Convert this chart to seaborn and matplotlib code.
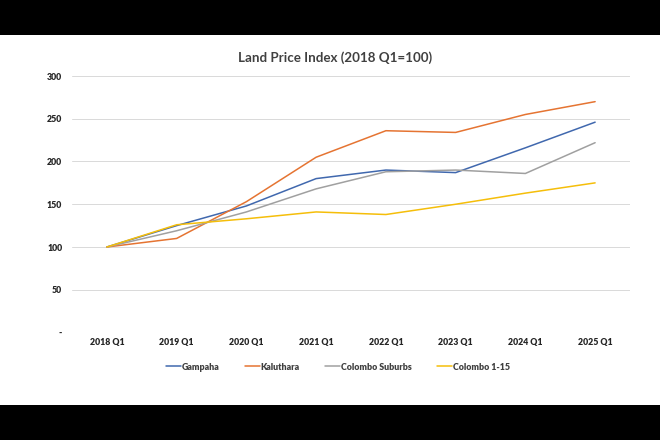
import matplotlib
matplotlib.use("Agg")
import matplotlib.pyplot as plt
import seaborn as sns
import pandas as pd
from matplotlib.patches import Rectangle
from matplotlib.lines import Line2D

quarters = ["2018 Q1", "2019 Q1", "2020 Q1", "2021 Q1", "2022 Q1", "2023 Q1", "2024 Q1", "2025 Q1"]
gampaha = [100, 125, 148, 180, 190, 187, 216, 246]
kaluthara = [100, 110, 153, 205, 236, 234, 255, 270]
colombo_suburbs = [100, 119, 141, 168, 188, 190, 186, 222]
colombo_1_15 = [100, 126, 133, 141, 138, 150, 163, 175]
series_names = ["Gampaha", "Kaluthara", "Colombo Suburbs", "Colombo 1-15"]
y_ticks = [0, 50, 100, 150, 200, 250, 300]
y_tick_labels = ["-", "50", "100", "150", "200", "250", "300"]
title = "Land Price Index (2018 Q1=100)"

colors = ["#4068AE", "#E57432", "#A0A0A0", "#F5BE0A"]

rows = []
for name, vals in zip(series_names, [gampaha, kaluthara, colombo_suburbs, colombo_1_15]):
    for i, (q, v) in enumerate(zip(quarters, vals)):
        rows.append({"pos": i, "quarter": q, "series": name, "value": v})
df = pd.DataFrame(rows)

sns.set_theme(style="white")
plt.rcParams["font.family"] = ["Lato", "DejaVu Sans"]

fig = plt.figure(figsize=(6.6, 4.4), dpi=100, facecolor="black")
bg = Rectangle((0, 35 / 440), 1, 370 / 440, transform=fig.transFigure,
               facecolor="white", edgecolor="none", zorder=-10)
fig.add_artist(bg)

ax = fig.add_axes([72 / 660, 1 - 332.5 / 440, 558 / 660, 256.5 / 440])
ax.set_zorder(5)
ax.set_facecolor("none")

sns.lineplot(data=df, x="pos", y="value", hue="series", hue_order=series_names,
             palette=colors, linewidth=1.1, ax=ax, legend=False, zorder=3)

ax.set_xlim(-0.5, 7.5)
ax.set_ylim(0, 300)
ax.set_xticks(range(len(quarters)))
ax.set_xticklabels(quarters)
ax.set_yticks(y_ticks)
ax.set_yticklabels(y_tick_labels)
ax.set_xlabel("")
ax.set_ylabel("")
for s in ax.spines.values():
    s.set_visible(False)
ax.grid(axis="y", color="#D9D9D9", linewidth=0.7)
ax.grid(axis="x", visible=False)
ax.tick_params(axis="both", length=0, labelsize=6.3, labelcolor="#262626")
ax.tick_params(axis="y", pad=7)
ax.tick_params(axis="x", pad=4)
for lab in ax.get_xticklabels() + ax.get_yticklabels():
    lab.set_fontweight("heavy")

t = fig.text(0.508, 1 - 57.7 / 440, title, ha="center", va="center", fontsize=9.6,
             fontweight="bold", color="#404040")
t.set_zorder(6)

handles = [Line2D([0], [0], color=c, linewidth=1.1) for c in colors]
leg = fig.legend(handles, series_names, loc="center", bbox_to_anchor=(338 / 660, 1 - 367 / 440),
                 ncol=4, frameon=False, handlelength=1.65, handletextpad=0.1,
                 columnspacing=2.9, prop={"size": 6.4, "weight": "heavy"})
leg.set_zorder(6)
for tx in leg.get_texts():
    tx.set_color("#404040")

fig.savefig("out.png", dpi=100, facecolor="black")
